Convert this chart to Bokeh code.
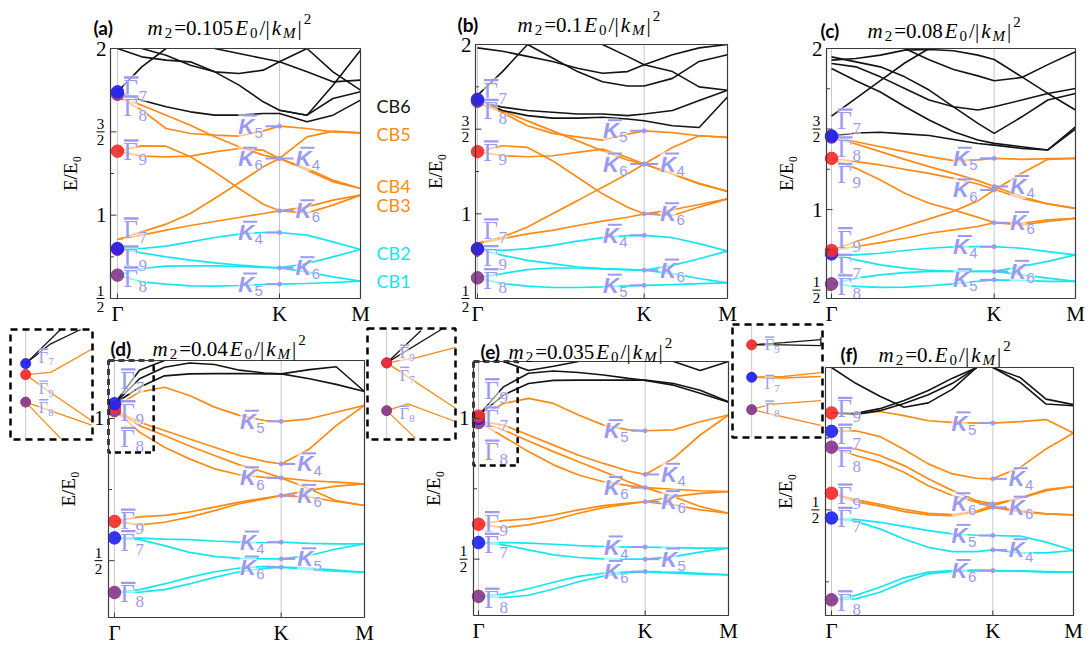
import math
from bokeh.plotting import figure
from bokeh.models import Range1d
from bokeh.core.properties import value
from bokeh.embed import file_html
from bokeh.resources import INLINE

nan = float("nan")

# ---------------- shared axis data ----------------
K_PATH = [0.0, 0.15, 0.30, 0.45, 0.60, 0.75, 0.90, 1.00, 1.17, 1.33, 1.50]
K_TICKS = [0.0, 1.0, 1.5]
K_NAMES = ["Γ", "K", "M"]

M2_VALUES = {"a": "0.105", "b": "0.1", "c": "0.08", "d": "0.04", "e": "0.035", "f": "0."}
PANEL_TAGS = {"a": "(a)", "b": "(b)", "c": "(c)", "d": "(d)", "e": "(e)", "f": "(f)"}

CB_NAMES = ["CB6", "CB5", "CB4", "CB3", "CB2", "CB1"]

# ---------------- panel (a): m2 = 0.105 ----------------
A_CB1_LO = [0.64, 0.60, 0.586, 0.576, 0.574, 0.578, 0.584, 0.586, 0.59, 0.596, 0.604]
A_CB1_HI = [0.64, 0.68, 0.694, 0.696, 0.696, 0.692, 0.686, 0.684, 0.66, 0.63, 0.604]
A_CB2_LO = [0.80, 0.774, 0.75, 0.73, 0.714, 0.70, 0.69, 0.684, 0.71, 0.75, 0.794]
A_CB2_HI = [0.80, 0.80, 0.814, 0.84, 0.866, 0.886, 0.896, 0.896, 0.88, 0.84, 0.794]
A_OR1 = [0.854, 0.90, 0.946, 1.01, 1.10, 1.194, 1.29, 1.34, 1.47, 1.504, 1.494]
A_OR2 = [0.854, 0.88, 0.91, 0.938, 0.962, 0.986, 1.01, 1.026, 1.05, 1.09, 1.12]
A_OR3 = [1.384, 1.416, 1.414, 1.35, 1.26, 1.16, 1.066, 1.026, 1.014, 1.06, 1.12]
A_OR4 = [1.384, 1.354, 1.35, 1.354, 1.38, 1.40, 1.39, 1.34, 1.28, 1.21, 1.16]
A_OR5 = [1.71, 1.63, 1.52, 1.49, 1.48, 1.474, 1.506, 1.534, 1.52, 1.50, 1.494]
A_OR6 = [1.71, 1.66, 1.60, 1.54, 1.47, 1.41, 1.36, 1.34, 1.27, 1.20, 1.16]
A_BK1 = [1.74, 1.89, 2.0, nan, nan, nan, nan, nan, nan, nan, nan]
A_BK2 = [2.0, 1.95, 1.93, 1.92, 1.86, 1.78, 1.68, 1.63, 1.60, 1.70, 1.74]
A_BK3 = [1.74, 1.69, 1.65, 1.62, 1.60, 1.60, 1.61, 1.61, 1.56, 1.60, 1.69]
A_BK4 = [nan, 2.0, 1.96, 1.90, 1.86, 1.85, 1.87, 1.92, 2.0, nan, nan]
A_BK5 = [nan, nan, nan, nan, 2.0, 1.97, 1.94, 1.92, 1.86, 1.80, 1.81]
A_BK6 = [nan, nan, nan, nan, nan, nan, nan, nan, 2.0, 1.86, 1.75]
A_BK7 = [nan, nan, nan, nan, nan, nan, nan, 1.63, 1.60, 1.78, 1.99]
A_DOTS = [(1.725, "purple"), (1.74, "blue"), (1.384, "red"), (0.795, "red"), (0.80, "blue"), (0.64, "purple")]
A_GAMMA_LAB = [(1.76, "7"), (1.646, "8"), (1.382, "9"), (0.914, "7"), (0.746, "9"), (0.62, "8")]
A_K_LAB = [(1.534, "5", "L"), (1.34, "6", "L"), (1.34, "4", "R"), (1.026, "6", "R"),
           (0.896, "4", "L"), (0.684, "6", "R"), (0.586, "5", "L")]

# ---------------- panel (b): m2 = 0.1 ----------------
B_CB1_LO = [0.622, 0.588, 0.573, 0.565, 0.565, 0.569, 0.575, 0.578, 0.582, 0.588, 0.592]
B_CB1_HI = [0.622, 0.647, 0.671, 0.68, 0.68, 0.675, 0.671, 0.667, 0.647, 0.618, 0.592]
B_CB2_LO = [0.794, 0.755, 0.725, 0.706, 0.686, 0.676, 0.671, 0.667, 0.696, 0.735, 0.78]
B_CB2_HI = [0.794, 0.784, 0.794, 0.814, 0.839, 0.859, 0.871, 0.873, 0.859, 0.824, 0.78]
B_OR1 = [0.827, 0.863, 0.922, 1.0, 1.078, 1.157, 1.235, 1.294, 1.392, 1.461, 1.451]
B_OR2 = [0.824, 0.853, 0.882, 0.902, 0.931, 0.957, 0.98, 1.0, 1.024, 1.055, 1.088]
B_OR3 = [1.367, 1.402, 1.392, 1.314, 1.216, 1.118, 1.039, 1.0, 0.99, 1.04, 1.088]
B_OR4 = [1.367, 1.343, 1.337, 1.343, 1.363, 1.382, 1.333, 1.294, 1.235, 1.176, 1.133]
B_OR5 = [1.657, 1.598, 1.52, 1.475, 1.455, 1.435, 1.471, 1.49, 1.48, 1.461, 1.451]
B_OR6 = [1.657, 1.608, 1.549, 1.49, 1.431, 1.373, 1.318, 1.294, 1.235, 1.18, 1.133]
B_BK1 = [1.70, 1.84, 2.0, nan, nan, nan, nan, nan, nan, nan, nan]
B_BK2 = [1.98, 1.96, 1.93, 1.90, 1.86, 1.83, 1.84, 1.88, 1.94, 1.98, 2.0]
B_BK3 = [nan, nan, 2.0, 1.92, 1.84, 1.78, 1.755, 1.755, 1.80, 1.90, 1.94]
B_BK4 = [1.68, 1.61, 1.58, 1.565, 1.565, 1.57, 1.56, 1.55, 1.52, 1.51, 1.69]
B_BK5 = [1.67, 1.63, 1.61, 1.60, 1.59, 1.59, 1.58, 1.59, 1.61, 1.67, 1.73]
B_BK6 = [nan, nan, nan, nan, nan, 2.0, 1.93, 1.88, 1.84, 1.75, 1.73]
B_DOTS = [(1.665, "purple"), (1.676, "blue"), (1.367, "red"), (0.79, "red"), (0.794, "blue"), (0.622, "purple")]
B_GAMMA_LAB = [(1.725, "7"), (1.608, "8"), (1.363, "9"), (0.902, "7"), (0.745, "9"), (0.608, "8")]
B_K_LAB = [(1.49, "5", "L"), (1.294, "6", "L"), (1.294, "4", "R"), (1.0, "6", "R"),
           (0.873, "4", "L"), (0.667, "6", "R"), (0.578, "5", "L")]

# ---------------- panel (c): m2 = 0.08 ----------------
C_CB1_LO = [0.539, 0.523, 0.517, 0.519, 0.527, 0.539, 0.554, 0.564, 0.56, 0.554, 0.554]
C_CB1_HI = [0.539, 0.574, 0.595, 0.609, 0.616, 0.616, 0.616, 0.616, 0.595, 0.574, 0.554]
C_CB2_LO = [0.725, 0.688, 0.657, 0.636, 0.622, 0.616, 0.616, 0.616, 0.647, 0.678, 0.719]
C_CB2_HI = [0.725, 0.719, 0.729, 0.746, 0.76, 0.768, 0.77, 0.77, 0.76, 0.739, 0.719]
C_OR1 = [1.452, 1.421, 1.39, 1.36, 1.329, 1.304, 1.308, 1.318, 1.312, 1.316, 1.318]
C_OR2 = [1.448, 1.407, 1.36, 1.312, 1.267, 1.225, 1.18, 1.143, 1.081, 1.035, 1.008]
C_OR3 = [1.318, 1.298, 1.277, 1.25, 1.225, 1.194, 1.159, 1.126, 1.07, 1.035, 1.008]
C_OR4 = [1.312, 1.256, 1.184, 1.101, 1.039, 0.998, 0.952, 0.919, 0.905, 0.926, 0.946]
C_OR5 = [0.746, 0.802, 0.847, 0.895, 0.942, 0.99, 1.054, 1.122, 1.225, 1.312, 1.318]
C_OR6 = [0.746, 0.771, 0.795, 0.822, 0.853, 0.874, 0.895, 0.919, 0.915, 0.936, 0.946]
C_BK1 = [1.456, 1.475, 1.48, 1.47, 1.46, 1.435, 1.41, 1.40, 1.38, 1.37, 1.50]
C_BK2 = [1.58, 1.69, 1.80, 1.91, 2.0, nan, nan, nan, nan, nan, nan]
C_BK3 = [1.876, 1.80, 1.73, 1.64, 1.556, 1.483, 1.432, 1.411, 1.39, 1.37, 1.514]
C_BK4 = [1.948, 1.917, 1.886, 1.824, 1.742, 1.638, 1.535, 1.473, 1.576, 1.68, 1.721]
C_BK5 = [1.928, 1.938, 1.959, 1.99, 1.994, 1.986, 1.959, 1.932, 1.824, 1.721, 1.618]
C_BK6 = [1.907, 1.886, 1.824, 1.752, 1.68, 1.638, 1.618, 1.638, 1.68, 1.721, 1.752]
C_BK7 = [nan, nan, nan, 2.0, 1.93, 1.87, 1.83, 1.80, 1.82, 1.90, 1.98]
C_DOTS = [(1.45, "purple"), (1.457, "blue"), (1.318, "red"), (0.725, "blue"), (0.746, "red"), (0.539, "purple")]
C_GAMMA_LAB = [(1.552, "7"), (1.38, "8"), (1.215, "9"), (0.816, "9"), (0.651, "7"), (0.523, "8")]
C_K_LAB = [(1.318, "5", "L"), (1.122, "6", "L"), (1.143, "4", "R"), (0.919, "6", "R"),
           (0.77, "4", "L"), (0.616, "6", "R"), (0.564, "5", "L")]

# ---------------- panel (d): m2 = 0.04 ----------------
D_CB1_LO = [0.388, 0.389, 0.398, 0.418, 0.441, 0.461, 0.473, 0.477, 0.469, 0.463, 0.459]
D_CB1_HI = [0.388, 0.398, 0.418, 0.441, 0.461, 0.474, 0.48, 0.477, 0.474, 0.467, 0.459]
D_CB2_LO = [0.58, 0.574, 0.553, 0.529, 0.515, 0.508, 0.506, 0.506, 0.518, 0.541, 0.559]
D_CB2_HI = [0.58, 0.579, 0.576, 0.574, 0.569, 0.565, 0.563, 0.565, 0.561, 0.559, 0.559]
D_OR1 = [0.638, 0.654, 0.659, 0.671, 0.688, 0.706, 0.72, 0.729, 0.747, 0.762, 0.77]
D_OR2 = [0.638, 0.626, 0.635, 0.653, 0.676, 0.70, 0.717, 0.729, 0.723, 0.708, 0.694]
D_OR3 = [1.03, 0.987, 0.958, 0.928, 0.899, 0.87, 0.849, 0.84, 0.893, 0.975, 1.046]
D_OR4 = [1.03, 0.975, 0.94, 0.903, 0.87, 0.837, 0.811, 0.791, 0.781, 0.776, 0.77]
D_OR5 = [1.03, 0.952, 0.899, 0.858, 0.823, 0.802, 0.793, 0.791, 0.752, 0.711, 0.694]
D_OR6 = [1.04, 1.093, 1.11, 1.081, 1.04, 1.011, 0.993, 0.989, 0.999, 1.022, 1.046]
D_BK1 = [1.052, 1.14, 1.18, 1.195, 1.19, 1.17, 1.16, 1.157, 1.172, 1.182, 1.095]
D_BK2 = [1.052, 1.11, 1.15, 1.157, 1.158, 1.158, 1.157, 1.157, 1.14, 1.12, 1.095]
D_BK3 = [1.052, 1.17, 1.204, nan, nan, nan, nan, nan, nan, nan, nan]
D_DOTS = [(1.028, "purple"), (1.04, "red"), (1.052, "blue"), (0.638, "red"), (0.58, "blue"), (0.388, "purple")]
D_GAMMA_LAB = [(1.134, "7"), (1.022, "9"), (0.928, "8"), (0.641, "9"), (0.565, "7"), (0.383, "8")]
D_K_LAB = [(0.99, "5", "L"), (0.84, "4", "R"), (0.791, "6", "L"), (0.729, "6", "R"),
           (0.565, "4", "L"), (0.506, "5", "R"), (0.477, "6", "L")]

# ---------------- panel (e): m2 = 0.035 ----------------
E_CB1_LO = [0.368, 0.364, 0.372, 0.394, 0.42, 0.44, 0.452, 0.456, 0.455, 0.45, 0.444]
E_CB1_HI = [0.368, 0.376, 0.395, 0.418, 0.439, 0.45, 0.455, 0.456, 0.45, 0.447, 0.444]
E_CB2_LO = [0.559, 0.551, 0.533, 0.515, 0.506, 0.501, 0.5, 0.5, 0.509, 0.525, 0.539]
E_CB2_HI = [0.559, 0.559, 0.557, 0.553, 0.548, 0.545, 0.543, 0.543, 0.541, 0.539, 0.539]
E_OR1 = [0.624, 0.637, 0.643, 0.657, 0.675, 0.69, 0.699, 0.704, 0.722, 0.734, 0.74]
E_OR2 = [0.624, 0.612, 0.622, 0.639, 0.663, 0.683, 0.696, 0.704, 0.693, 0.675, 0.663]
E_OR3 = [0.99, 0.976, 0.941, 0.905, 0.869, 0.84, 0.813, 0.801, 0.858, 0.941, 1.012]
E_OR4 = [0.99, 0.959, 0.92, 0.882, 0.846, 0.811, 0.775, 0.754, 0.748, 0.743, 0.74]
E_OR5 = [0.99, 0.935, 0.882, 0.835, 0.799, 0.775, 0.761, 0.754, 0.722, 0.687, 0.663]
E_OR6 = [1.005, 1.053, 1.071, 1.053, 1.012, 0.976, 0.959, 0.956, 0.959, 0.988, 1.012]
E_BK1 = [1.01, 1.083, 1.124, 1.135, 1.136, 1.136, 1.136, 1.136, 1.124, 1.10, 1.059]
E_BK2 = [1.01, 1.112, 1.16, 1.168, 1.163, 1.154, 1.142, 1.135, 1.118, 1.089, 1.057]
E_BK3 = [nan, 1.202, 1.17, 1.185, 1.202, nan, nan, nan, nan, nan, nan]
E_BK4 = [nan, nan, nan, nan, nan, nan, nan, nan, 1.202, 1.17, 1.202]
E_DOTS = [(0.985, "purple"), (1.0, "blue"), (1.008, "red"), (0.624, "red"), (0.559, "blue"), (0.368, "purple")]
E_GAMMA_LAB = [(1.10, "9"), (1.0, "7"), (0.882, "8"), (0.628, "9"), (0.551, "7"), (0.356, "8")]
E_K_LAB = [(0.956, "5", "L"), (0.801, "4", "R"), (0.754, "6", "L"), (0.704, "6", "R"),
           (0.543, "4", "L"), (0.50, "5", "R"), (0.456, "6", "L")]

# ---------------- panel (f): m2 = 0 ----------------
F_CB1_LO = [0.1875, 0.191, 0.214, 0.249, 0.278, 0.286, 0.288, 0.289, 0.287, 0.284, 0.284]
F_CB1_HI = [0.1875, 0.203, 0.231, 0.264, 0.284, 0.289, 0.291, 0.289, 0.288, 0.286, 0.284]
F_CB2_LO = [0.471, 0.46, 0.434, 0.399, 0.37, 0.355, 0.355, 0.361, 0.351, 0.351, 0.359]
F_CB2_HI = [0.471, 0.467, 0.457, 0.443, 0.428, 0.417, 0.412, 0.411, 0.409, 0.388, 0.359]
F_OR1 = [0.558, 0.536, 0.519, 0.502, 0.488, 0.484, 0.496, 0.515, 0.542, 0.571, 0.581]
F_OR2 = [0.558, 0.529, 0.513, 0.494, 0.483, 0.48, 0.492, 0.509, 0.498, 0.486, 0.483]
F_OR3 = [0.773, 0.775, 0.755, 0.71, 0.66, 0.625, 0.61, 0.608, 0.648, 0.712, 0.767]
F_OR4 = [0.718, 0.712, 0.689, 0.654, 0.608, 0.567, 0.532, 0.521, 0.54, 0.567, 0.582]
F_OR5 = [0.718, 0.689, 0.666, 0.631, 0.584, 0.55, 0.527, 0.509, 0.494, 0.486, 0.483]
F_OR6 = [0.837, 0.834, 0.842, 0.828, 0.81, 0.804, 0.802, 0.802, 0.807, 0.814, 0.767]
F_BK1 = [0.837, 0.832, 0.845, 0.87, 0.90, 0.94, 0.995, nan, nan, nan, nan]
F_BK2 = [0.995, 0.94, 0.895, 0.857, 0.872, 0.92, 0.995, nan, nan, nan, nan]
F_BK3 = [0.837, 0.836, 0.852, 0.88, 0.915, 0.958, 0.995, nan, nan, nan, nan]
F_BK4 = [nan, nan, nan, nan, nan, nan, nan, 0.995, 0.943, 0.868, 0.862]
F_BK5 = [nan, nan, nan, nan, nan, nan, nan, 0.995, 0.96, 0.885, 0.866]
F_DOTS = [(0.837, "red"), (0.773, "blue"), (0.718, "purple"), (0.558, "red"), (0.472, "blue"), (0.1875, "purple")]
F_GAMMA_LAB = [(0.851, "9"), (0.758, "7"), (0.677, "8"), (0.55, "9"), (0.469, "7"), (0.179, "8")]
F_K_LAB = [(0.802, "5", "L"), (0.608, "4", "R"), (0.521, "6", "L"), (0.509, "6", "R"),
           (0.411, "5", "L"), (0.361, "4", "R"), (0.289, "6", "L")]

# ---------------- Γ-point close-ups ----------------
INSET_D_LINES = [
    ([0.0, 0.092], [1.069, 1.1], "black"),
    ([0.0, 0.066, 0.145], [1.069, 1.087, 1.1], "black"),
    ([0.0, 0.066, 0.174], [1.059, 1.061, 1.082], "orange"),
    ([0.0, 0.047, 0.174], [1.059, 1.047, 1.017], "orange"),
    ([0.0, 0.174], [1.034, 1.013], "orange"),
    ([0.0, 0.092], [1.034, 1.001], "orange"),
]
INSET_D_DOTS = [(1.069, "blue"), (1.059, "red"), (1.034, "purple")]
INSET_D_LAB = [(1.075, "7"), (1.046, "9"), (1.029, "8")]

INSET_E_LINES = [
    ([0.0, 0.084], [1.069, 1.098], "black"),
    ([0.0, 0.138], [1.069, 1.1], "black"),
    ([0.0, 0.076, 0.17], [1.069, 1.074, 1.083], "orange"),
    ([0.0, 0.17], [1.069, 1.028], "orange"),
    ([0.0, 0.052, 0.17], [1.026, 1.032, 1.016], "orange"),
    ([0.0, 0.071], [1.026, 1.001], "orange"),
]
INSET_E_DOTS = [(1.069, "blue"), (1.069, "red"), (1.026, "purple")]
INSET_E_LAB = [(1.078, "9"), (1.058, "7"), (1.023, "8")]

INSET_F_LINES = [
    ([0.0, 0.077, 0.166], [0.823, 0.823, 0.822], "black"),
    ([0.0, 0.077, 0.166], [0.823, 0.826, 0.83], "black"),
    ([0.166, 0.166], [0.822, 0.833], "black"),
    ([0.0, 0.077, 0.166], [0.78, 0.781, 0.786], "orange"),
    ([0.0, 0.077, 0.166], [0.78, 0.779, 0.781], "orange"),
    ([0.0, 0.045, 0.166], [0.737, 0.744, 0.749], "orange"),
    ([0.0, 0.166], [0.737, 0.716], "orange"),
]
INSET_F_DOTS = [(0.823, "red"), (0.78, "blue"), (0.737, "purple")]
INSET_F_LAB = [(0.823, "9"), (0.772, "7"), (0.738, "8")]

# ---------------- styling ----------------
COLORS = {"cyan": "#14e6f0", "orange": "#ff8a14", "black": "#141414",
          "blue": "#2424f2", "red": "#f42e2e", "purple": "#8a3a8a"}
LAV = "#9a9af2"
FRAME = "#3c3c3c"
SERIF = value("Liberation Serif")
SANS = value("Liberation Sans")
LABEL_SANS = value("Lato")

PANELS = {
    "a": dict(cyan=[A_CB1_LO, A_CB1_HI, A_CB2_LO, A_CB2_HI],
              orange=[A_OR1, A_OR2, A_OR3, A_OR4, A_OR5, A_OR6],
              black=[A_BK1, A_BK2, A_BK3, A_BK4, A_BK5, A_BK6, A_BK7],
              dots=A_DOTS, glab=A_GAMMA_LAB, klab=A_K_LAB),
    "b": dict(cyan=[B_CB1_LO, B_CB1_HI, B_CB2_LO, B_CB2_HI],
              orange=[B_OR1, B_OR2, B_OR3, B_OR4, B_OR5, B_OR6],
              black=[B_BK1, B_BK2, B_BK3, B_BK4, B_BK5, B_BK6],
              dots=B_DOTS, glab=B_GAMMA_LAB, klab=B_K_LAB),
    "c": dict(cyan=[C_CB1_LO, C_CB1_HI, C_CB2_LO, C_CB2_HI],
              orange=[C_OR1, C_OR2, C_OR3, C_OR4, C_OR5, C_OR6],
              black=[C_BK1, C_BK2, C_BK3, C_BK4, C_BK5, C_BK6, C_BK7],
              dots=C_DOTS, glab=C_GAMMA_LAB, klab=C_K_LAB),
    "d": dict(cyan=[D_CB1_LO, D_CB1_HI, D_CB2_LO, D_CB2_HI],
              orange=[D_OR1, D_OR2, D_OR3, D_OR4, D_OR5, D_OR6],
              black=[D_BK1, D_BK2, D_BK3],
              dots=D_DOTS, glab=D_GAMMA_LAB, klab=D_K_LAB),
    "e": dict(cyan=[E_CB1_LO, E_CB1_HI, E_CB2_LO, E_CB2_HI],
              orange=[E_OR1, E_OR2, E_OR3, E_OR4, E_OR5, E_OR6],
              black=[E_BK1, E_BK2, E_BK3, E_BK4],
              dots=E_DOTS, glab=E_GAMMA_LAB, klab=E_K_LAB),
    "f": dict(cyan=[F_CB1_LO, F_CB1_HI, F_CB2_LO, F_CB2_HI],
              orange=[F_OR1, F_OR2, F_OR3, F_OR4, F_OR5, F_OR6],
              black=[F_BK1, F_BK2, F_BK3, F_BK4, F_BK5],
              dots=F_DOTS, glab=F_GAMMA_LAB, klab=F_K_LAB),
}

TOP_TICKS = ([0.5, 1.0, 1.5, 2.0], ["1/2", "1", "3/2", "2"], [0.75, 1.25, 1.75])
MID_TICKS = ([0.5, 1.0], ["1/2", "1"], [0.75])
LOW_TICKS = ([0.5], ["1/2"], [0.25, 0.75])

# page placement of every panel: frame box (left, right, top, bottom) in px
LAYOUT = {
    "a": dict(box=(110, 360, 48, 298), k0=-0.043, e=(0.5, 2.0), ticks=TOP_TICKS, title=(147, 27), tag=(93, 27)),
    "b": dict(box=(475, 727, 44, 298), k0=-0.012, e=(0.5, 2.0), ticks=TOP_TICKS, title=(517, 24), tag=(457, 24)),
    "c": dict(box=(826, 1075, 48, 298), k0=-0.031, e=(0.448, 2.0), ticks=TOP_TICKS, title=(867, 30), tag=(820, 30)),
    "d": dict(box=(108, 364, 360, 617), k0=-0.036, e=(0.30, 1.204), ticks=MID_TICKS, title=(152, 348), tag=(110, 348)),
    "e": dict(box=(473, 728, 361, 615), k0=-0.030, e=(0.30, 1.202), ticks=MID_TICKS, title=(508, 351), tag=(480, 351)),
    "f": dict(box=(825, 1073, 367, 615), k0=-0.037, e=(0.133, 0.995), ticks=LOW_TICKS, title=(878, 354), tag=(840, 354)),
}
INSETS = {
    "d": dict(box=(10, 92, 329, 439), k=(-0.040, 0.176), e=(1.0, 1.1),
              lines=INSET_D_LINES, dots=INSET_D_DOTS, lab=INSET_D_LAB),
    "e": dict(box=(367, 455, 328, 439), k=(-0.047, 0.169), e=(1.0, 1.1),
              lines=INSET_E_LINES, dots=INSET_E_DOTS, lab=INSET_E_LAB),
    "f": dict(box=(732, 822, 324, 437), k=(-0.046, 0.170), e=(0.70, 0.85),
              lines=INSET_F_LINES, dots=INSET_F_DOTS, lab=INSET_F_LAB),
}
ZOOM_MARKS = {"d": (0.235, 0.88), "e": (0.235, 0.833)}
CB_ROWS = [105, 133, 185, 204, 252, 280]
CB_COLORS = ["black", "orange", "orange", "orange", "cyan", "cyan"]

p = figure(width=1092, height=646, x_range=Range1d(0, 1092), y_range=Range1d(646, 0),
           x_axis_type=None, y_axis_type=None, toolbar_location=None,
           output_backend="svg", min_border=0)
p.outline_line_color = None
p.background_fill_color = "white"
p.border_fill_color = "white"

HALO = dict(background_fill_color="white", background_fill_alpha=0.55)


def put_text(target, halo=False, **kw):
    if halo:
        try:
            return target.text(**kw, **HALO)
        except AttributeError:
            pass
    return target.text(**kw)


def curve(target, ks, es, color, width):
    draw = getattr(target, "spline", None) or target.line
    run_k, run_e = [], []
    for k, e in list(zip(ks, es)) + [(None, nan)]:
        if e is None or (isinstance(e, float) and math.isnan(e)):
            if len(run_k) >= 2:
                draw(x=run_k, y=run_e, line_color=color, line_width=width)
            run_k, run_e = [], []
        else:
            run_k.append(k)
            run_e.append(e)


def gamma_labels(sub, ppk, ppe, items, size, dx):
    """Γ̄ labels next to the Γ point; offsets given in px are turned into data units."""
    es = [e for e, _ in items]
    n = len(es)
    put_text(sub, halo=True, x=[dx / ppk] * n, y=es, text=["Γ"] * n,
             text_font=SERIF, text_font_size=f"{size}px", text_color=LAV,
             text_align="left", text_baseline="middle")
    put_text(sub, halo=True, x=[(dx + 0.6 * size) / ppk] * n,
             y=[e - 0.3 * size / ppe for e in es], text=[s for _, s in items],
             text_font=SERIF, text_font_size=f"{round(0.68 * size)}px", text_color=LAV,
             text_align="left", text_baseline="middle")
    yb = [e + (0.36 * size + 2) / ppe for e in es]
    sub.segment(x0=[(dx + 0.5) / ppk] * n, x1=[(dx + 0.6 * size) / ppk] * n, y0=yb, y1=yb,
                line_color=LAV, line_width=max(1.3, size / 11))


def k_labels(sub, ppk, ppe, items, size=22):
    es = [e for e, _, _ in items]
    n = len(es)
    width = 1.1 * size
    dxs = [-(15 + 2 + width) if side == "L" else 16 for _, _, side in items]
    put_text(sub, halo=True, x=[1.0 + d / ppk for d in dxs], y=es, text=["K"] * n,
             text_font=SANS, text_font_size=f"{size}px", text_font_style="bold italic",
             text_color=LAV, text_align="left", text_baseline="middle")
    put_text(sub, halo=True, x=[1.0 + (d + 0.74 * size) / ppk for d in dxs],
             y=[e - 0.3 * size / ppe for e in es], text=[s for _, s, _ in items],
             text_font=SANS, text_font_size=f"{round(0.68 * size)}px",
             text_color=LAV, text_align="left", text_baseline="middle")
    yb = [e + (0.37 * size + 2.5) / ppe for e in es]
    sub.segment(x0=[1.0 + (d + 0.22 * size) / ppk for d in dxs],
                x1=[1.0 + (d + 0.86 * size) / ppk for d in dxs],
                y0=yb, y1=yb, line_color=LAV, line_width=2)
    cx0 = [1.0 - 14 / ppk if side == "L" else 1.0 for _, _, side in items]
    cx1 = [1.0 if side == "L" else 1.0 + 14 / ppk for _, _, side in items]
    sub.segment(x0=cx0, x1=cx1, y0=es, y1=es, line_color=LAV, line_width=2)
    sub.scatter(x=[1.0] * n, y=es, size=4, color=LAV)


def title_text(x, base, num):
    em = {"m": 0.722, "E": 0.611, "k": 0.444, "M": 0.833, ".": 0.25, "=": 0.564, "/": 0.278, "|": 0.2}
    parts = [("m", True, 21, 0), ("2", False, 15, 5), ("=" + num, False, 21, 0),
             ("E", True, 21, 0), ("0", False, 15, 5), ("/|", False, 21, 0),
             ("k", True, 21, 0), ("M", True, 15, 5), ("|", False, 21, 0), ("2", False, 15, -9)]
    for s, italic, size, dy in parts:
        p.text(x=[x], y=[base + dy], text=[s], text_font=SERIF, text_font_size=f"{size}px",
               text_font_style="italic" if italic else "normal", text_color="black",
               text_align="left", text_baseline="alphabetic")
        x += sum(em.get(c, 0.5) for c in s) * size + 2.0


for key in ["a", "b", "c", "d", "e", "f"]:
    lay = LAYOUT[key]
    data = PANELS[key]
    x0, x1, yt, yb = lay["box"]
    k0, k1 = lay["k0"], K_TICKS[-1]
    e0, e1 = lay["e"]
    sub = p.subplot(x_source=Range1d(k0, k1), y_source=Range1d(e0, e1),
                    x_target=Range1d(x0, x1), y_target=Range1d(yb, yt))
    ppk = (x1 - x0) / (k1 - k0)
    ppe = (yb - yt) / (e1 - e0)

    # Γ and K guide lines
    sub.segment(x0=K_TICKS[:2], x1=K_TICKS[:2], y0=[e0, e0], y1=[e1, e1],
                line_color="#c8c8c8", line_width=1)

    for band in data["cyan"]:
        curve(sub, K_PATH, band, COLORS["cyan"], 1.7)
    for band in data["orange"]:
        curve(sub, K_PATH, band, COLORS["orange"], 1.7)
    for band in data["black"]:
        curve(sub, K_PATH, band, COLORS["black"], 1.6)

    gamma_labels(sub, ppk, ppe, data["glab"], 25, 6)
    k_labels(sub, ppk, ppe, data["klab"])

    for e, c in data["dots"]:
        sub.scatter(x=[0.0], y=[e], size=12.5, color=COLORS[c], alpha=0.92)

    if key in ZOOM_MARKS:
        kz, ez = ZOOM_MARKS[key]
        sub.quad(left=[k0], right=[kz], bottom=[ez], top=[e1], fill_color=None,
                 line_color="black", line_width=2.5, line_dash="6 4")

    # frame, ticks and tick labels
    sub.quad(left=[k0], right=[k1], bottom=[e0], top=[e1], fill_color=None,
             line_color=FRAME, line_width=1.2)
    major, major_txt, minor = lay["ticks"]
    sub.segment(x0=[k0] * len(major), x1=[k0 + 6 / ppk] * len(major), y0=major, y1=major,
                line_color=FRAME, line_width=1)
    sub.segment(x0=[k0] * len(minor), x1=[k0 + 3.5 / ppk] * len(minor), y0=minor, y1=minor,
                line_color=FRAME, line_width=1)
    sub.segment(x0=K_TICKS[:2], x1=K_TICKS[:2], y0=[e0, e0], y1=[e0 + 5 / ppe] * 2,
                line_color=FRAME, line_width=1)
    for t, lab in zip(major, major_txt):
        if "/" in lab:
            num, den = lab.split("/")
            sub.text(x=[k0 - 10 / ppk], y=[t + 8 / ppe], text=[num], text_font=SERIF,
                     text_font_size="15px", text_align="center", text_baseline="middle",
                     text_color="black")
            sub.text(x=[k0 - 10 / ppk], y=[t - 8 / ppe], text=[den], text_font=SERIF,
                     text_font_size="15px", text_align="center", text_baseline="middle",
                     text_color="black")
            sub.segment(x0=[k0 - 14 / ppk], x1=[k0 - 6 / ppk], y0=[t], y1=[t],
                        line_color="black", line_width=1)
        else:
            sub.text(x=[k0 - 4 / ppk], y=[t], text=[lab], text_font=SERIF,
                     text_font_size="21px", text_align="right", text_baseline="middle",
                     text_color="black")
    sub.text(x=K_TICKS, y=[e0 - 15 / ppe] * 3, text=K_NAMES, text_font=SERIF,
             text_font_size="21px", text_align="center", text_baseline="middle", text_color="black")
    sub.text(x=[k0 - 40 / ppk], y=[(e0 + e1) / 2], text=["E/E₀"], angle=math.pi / 2,
             text_font=SERIF, text_font_size="19px", text_align="center",
             text_baseline="middle", text_color="black")

    tx, tb = lay["title"]
    title_text(tx, tb, M2_VALUES[key])
    gx, gb = lay["tag"]
    p.text(x=[gx], y=[gb], text=[PANEL_TAGS[key]], text_font=LABEL_SANS, text_font_size="19px",
           text_font_style="bold", text_color="black", text_align="left", text_baseline="alphabetic")

# Γ-point close-ups beside the lower panels
for key, ins in INSETS.items():
    bx0, bx1, byt, byb = ins["box"]
    ka, kb = ins["k"]
    ea, eb = ins["e"]
    sub = p.subplot(x_source=Range1d(ka, kb), y_source=Range1d(ea, eb),
                    x_target=Range1d(bx0, bx1), y_target=Range1d(byb, byt))
    ppk = (bx1 - bx0) / (kb - ka)
    ppe = (byb - byt) / (eb - ea)
    sub.segment(x0=[0.0], x1=[0.0], y0=[ea], y1=[eb], line_color="#c8c8c8", line_width=1)
    for ks, es, c in ins["lines"]:
        sub.line(x=ks, y=es, line_color=COLORS[c], line_width=1.3)
    gamma_labels(sub, ppk, ppe, ins["lab"], 16, 13)
    for e, c in ins["dots"]:
        sub.scatter(x=[0.0], y=[e], size=10, color=COLORS[c], alpha=0.95)
    sub.quad(left=[ka], right=[kb], bottom=[ea], top=[eb], fill_color=None,
             line_color="black", line_width=2.5, line_dash="7 5")

# conduction band legend between panels (a) and (b)
p.text(x=[376] * len(CB_NAMES), y=CB_ROWS, text=CB_NAMES,
       text_color=[COLORS[c] for c in CB_COLORS], text_font=LABEL_SANS,
       text_font_size="18px", text_align="left", text_baseline="middle")

open("out.html", "w").write(file_html(p, INLINE))
